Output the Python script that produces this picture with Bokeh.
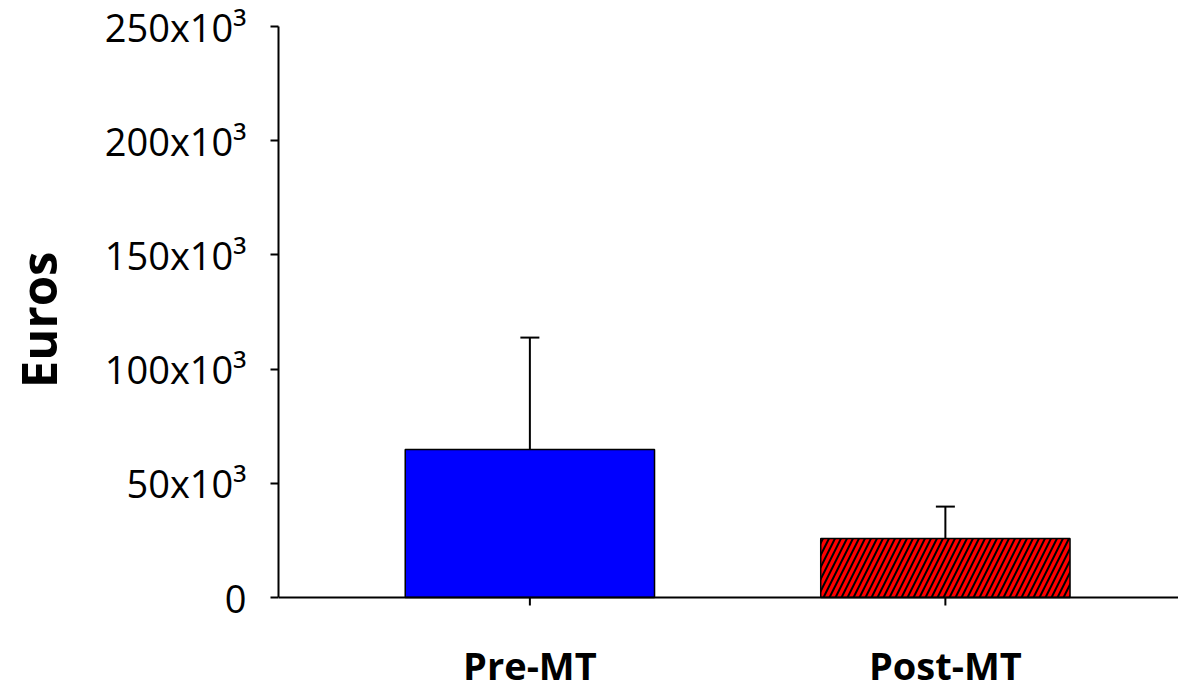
import math
from bokeh.plotting import figure
from bokeh.layouts import row
from bokeh.models import (ColumnDataSource, Range1d, FixedTicker, Whisker, TeeHead,
                          Span, Label)
from bokeh.embed import file_html
from bokeh.resources import INLINE

# ---- data ----
categories = ["Pre-MT", "Post-MT"]
means = [64800, 25800]
sds = [49000, 14000]
fill_colors = ["#0000ff", "#ff0000"]
hatches = [" ", "/"]
y_ticks = [0, 50000, 100000, 150000, 200000, 250000]
y_tick_labels = ["0", "50x10\u00b3", "100x10\u00b3", "150x10\u00b3", "200x10\u00b3", "250x10\u00b3"]
y_title = "Euros"
y_max = 250000

xs = [i + 1 for i in range(len(categories))]
src = ColumnDataSource(dict(
    x=xs, top=means, upper=[m + s for m, s in zip(means, sds)],
    color=fill_colors, hatch=hatches))

# ---- layout (pixels) ----
W, H = 1178, 683
LW = 80                             # width of the strip holding the axis title
left, top_b = 278, 26
zero_px = 597                      # row of value 0
px_per_val = (zero_px - top_b) / y_max
y_start = -(H - zero_px) / px_per_val   # frame runs to the bottom of the canvas
tick_val = 8 / px_per_val
label_val = (664 - zero_px) / px_per_val
frame_w = W - left
px_per_unit = 415.5
x0 = 0.395

# strip with the rotated axis title
pt = figure(width=LW, height=H, output_backend="svg", toolbar_location=None,
            x_range=Range1d(0, LW), y_range=Range1d(0, H),
            x_axis_location=None, y_axis_location=None,
            min_border=0)
pt.outline_line_color = None
pt.xgrid.visible = False
pt.ygrid.visible = False
pt.add_layout(Label(x=37, y=H - 305, text=y_title, angle=math.pi / 2,
                    text_align="center", text_baseline="middle",
                    text_font="Open Sans", text_font_style="bold",
                    text_font_size="49px", text_color="black"))

p = figure(width=W - LW, height=H, output_backend="svg", toolbar_location=None,
           x_range=Range1d(x0, x0 + frame_w / px_per_unit),
           y_range=Range1d(y_start, y_max),
           x_axis_location=None,
           min_border_left=left - LW, min_border_right=0,
           min_border_top=top_b, min_border_bottom=0)
p.outline_line_color = None
p.background_fill_color = "white"
p.border_fill_color = "white"
p.xgrid.visible = False
p.ygrid.visible = False

p.vbar(x="x", top="top", bottom=0, width=0.6, source=src,
       fill_color="color", line_color="black", line_width=1.5,
       hatch_pattern="hatch", hatch_color="black", hatch_scale=12, hatch_weight=2)

w = Whisker(base="x", lower="top", upper="upper", source=src, dimension="height",
            line_color="black", line_width=2,
            upper_head=TeeHead(size=19, line_color="black", line_width=2),
            lower_head=None)
p.add_layout(w)

# x axis line at 0 with ticks and category labels
p.add_layout(Span(location=0, dimension="width", line_color="black", line_width=2))
p.segment(x0=xs, y0=[0] * len(xs), x1=xs, y1=[-tick_val] * len(xs),
          line_color="black", line_width=2)
for x, c in zip(xs, categories):
    p.add_layout(Label(x=x, y=-label_val, text=c, text_align="center",
                       text_baseline="alphabetic", text_font="Open Sans",
                       text_font_style="bold", text_font_size="38px",
                       text_color="black"))

# y axis
ya = p.yaxis[0]
ya.bounds = (0, y_max)
ya.ticker = FixedTicker(ticks=y_ticks)
ya.major_label_overrides = {t: l for t, l in zip(y_ticks, y_tick_labels)}
ya.major_label_text_font = "Open Sans"
ya.major_label_text_font_size = "38px"
ya.major_label_text_color = "black"
ya.major_label_standoff = 24
ya.axis_line_width = 2
ya.axis_line_color = "black"
ya.major_tick_line_width = 2
ya.major_tick_out = 8
ya.major_tick_in = 0
ya.minor_tick_line_color = None

layout = row(pt, p, spacing=0)
open("out.html", "w").write(file_html(layout, INLINE))
